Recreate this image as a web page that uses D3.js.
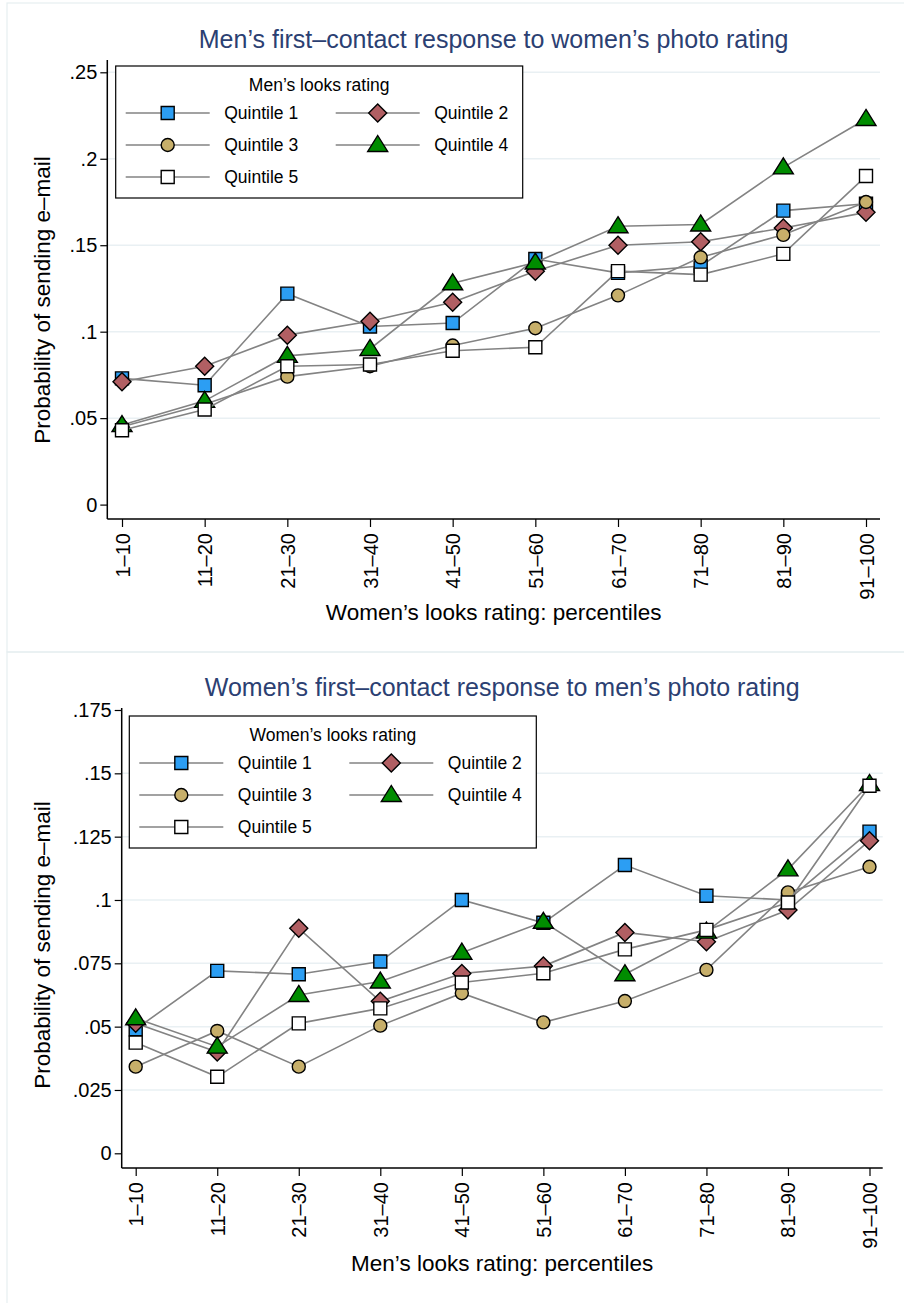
<!DOCTYPE html>
<html>
<head>
<meta charset="utf-8">
<script src="https://cdn.jsdelivr.net/npm/d3@7"></script>
<style>
  body { margin: 0; background: #fff; }
  svg { display: block; }
</style>
</head>
<body>
<script>
// categories on the x axis (percentiles)
var categories = ["1–10", "11–20", "21–30", "31–40", "41–50", "51–60", "61–70", "71–80", "81–90", "91–100"];
var seriesNames = ["Quintile 1", "Quintile 2", "Quintile 3", "Quintile 4", "Quintile 5"];

// top chart: men's response to women's photo rating
var menQ1 = [0.073, 0.069, 0.122, 0.103, 0.105, 0.142, 0.134, 0.138, 0.170, 0.174];
var menQ2 = [0.071, 0.080, 0.098, 0.106, 0.117, 0.135, 0.150, 0.152, 0.160, 0.169];
var menQ3 = [0.045, 0.058, 0.074, 0.080, 0.092, 0.102, 0.121, 0.143, 0.156, 0.175];
var menQ4 = [0.046, 0.060, 0.086, 0.090, 0.128, 0.140, 0.161, 0.162, 0.195, 0.223];
var menQ5 = [0.043, 0.055, 0.080, 0.081, 0.089, 0.091, 0.135, 0.133, 0.145, 0.190];

// bottom chart: women's response to men's photo rating
var womenQ1 = [0.049, 0.072, 0.0707, 0.0757, 0.100, 0.091, 0.1138, 0.1017, 0.100, 0.127];
var womenQ2 = [0.0513, 0.040, 0.0888, 0.060, 0.071, 0.0739, 0.0872, 0.0835, 0.096, 0.1234];
var womenQ3 = [0.0342, 0.0483, 0.0342, 0.0504, 0.0632, 0.0517, 0.0601, 0.0724, 0.103, 0.1131];
var womenQ4 = [0.0533, 0.0421, 0.0625, 0.0678, 0.0792, 0.0914, 0.0707, 0.0875, 0.1121, 0.1458];
var womenQ5 = [0.0437, 0.0302, 0.0513, 0.0572, 0.0674, 0.0711, 0.0805, 0.0882, 0.099, 0.1451];

// axis ticks
var topYTicks = [0, 0.05, 0.1, 0.15, 0.2, 0.25];
var topYLabels = ["0", ".05", ".1", ".15", ".2", ".25"];
var topGrid = [0.05, 0.1, 0.15, 0.2, 0.25];
var bottomYTicks = [0, 0.025, 0.05, 0.075, 0.1, 0.125, 0.15, 0.175];
var bottomYLabels = ["0", ".025", ".05", ".075", ".1", ".125", ".15", ".175"];
var bottomGrid = [0.025, 0.05, 0.075, 0.1, 0.125, 0.15];

// marker styles per series
var markerShape = ["square", "diamond", "circle", "triangle", "square"];
var markerFill = ["#2c9ef3", "#b15f63", "#c7af6a", "#008c00", "#ffffff"];

var FONT = "'Liberation Sans', Arial, Helvetica, sans-serif";

var svg = d3.select("body").append("svg")
    .attr("width", 904)
    .attr("height", 1303)
    .style("font-family", FONT);

function markerPath(shape) {
    if (shape == "square") return "M-6.5,-6.5h13v13h-13z";
    if (shape == "diamond") return "M0,-9L9,0L0,9L-9,0Z";
    if (shape == "circle") return "M6.5,0A6.5,6.5 0 1,1 -6.5,0A6.5,6.5 0 1,1 6.5,0Z";
    return "M0,-9.5L10,6.5L-10,6.5Z";
}

function drawPanel(p) {
    var g = svg.append("g");

    var x = d3.scalePoint().domain(categories).range([p.x0, p.x1]);
    var y = d3.scaleLinear().domain([0, p.yMax]).range([p.y0, p.y1]);

    //gridlines
    g.append("g")
        .selectAll("line")
        .data(p.grid)
        .enter().append("line")
        .attr("x1", p.left).attr("x2", p.right)
        .attr("y1", function(d) { return y(d); })
        .attr("y2", function(d) { return y(d); })
        .style("stroke", "#e9f0f3")
        .style("stroke-width", "1.5px");

    //y axis
    var yAxis = d3.axisLeft(y)
        .tickValues(p.yTicks)
        .tickFormat(function(d, i) { return p.yLabels[i]; })
        .tickSize(7)
        .tickPadding(3);
    var ya = g.append("g").attr("transform", "translate(" + p.left + ",0)").call(yAxis);
    ya.select(".domain").remove();
    ya.selectAll(".tick line").style("stroke", "#000").style("stroke-width", "1.2px");
    ya.selectAll(".tick text")
        .style("font-family", FONT)
        .style("font-size", "20px")
        .style("fill", "#000");

    //x axis
    var xAxis = d3.axisBottom(x).tickSize(8);
    var xa = g.append("g").attr("transform", "translate(0," + p.bottom + ")").call(xAxis);
    xa.select(".domain").remove();
    xa.selectAll(".tick line").style("stroke", "#000").style("stroke-width", "1.2px");
    xa.selectAll(".tick text")
        .attr("transform", "rotate(-90)")
        .attr("x", -14)
        .attr("y", 0)
        .attr("dy", "0.35em")
        .style("text-anchor", "end")
        .style("font-family", FONT)
        .style("font-size", "20px")
        .style("fill", "#000");

    //axis lines
    g.append("line")
        .attr("x1", p.left).attr("x2", p.left)
        .attr("y1", p.top).attr("y2", p.bottom)
        .style("stroke", "#000").style("stroke-width", "1.5px");
    g.append("line")
        .attr("x1", p.left).attr("x2", p.right)
        .attr("y1", p.bottom).attr("y2", p.bottom)
        .style("stroke", "#000").style("stroke-width", "1.5px");

    //series: line then markers, one after another
    var line = d3.line()
        .x(function(d, i) { return x(categories[i]); })
        .y(function(d) { return y(d); });

    p.series.forEach(function(values, s) {
        var sg = g.append("g");
        sg.append("path")
            .attr("d", line(values))
            .style("fill", "none")
            .style("stroke", "#838383")
            .style("stroke-width", "1.6px");
        sg.selectAll("path.mk")
            .data(values)
            .enter().append("path")
            .attr("class", "mk")
            .attr("d", markerPath(markerShape[s]))
            .attr("transform", function(d, i) { return "translate(" + x(categories[i]) + "," + y(d) + ")"; })
            .style("fill", markerFill[s])
            .style("stroke", "#000")
            .style("stroke-width", "1.4px");
    });

    //legend
    var lg = g.append("g").attr("transform", "translate(" + p.legendX + "," + p.legendY + ")");
    lg.append("rect")
        .attr("width", 407).attr("height", 132)
        .style("fill", "#fff").style("stroke", "#000").style("stroke-width", "1.2px");
    lg.append("text")
        .attr("x", 203.5).attr("y", 24.5)
        .style("text-anchor", "middle")
        .style("font-size", "17.5px")
        .text(p.legendTitle);
    var items = lg.selectAll("g.item")
        .data(seriesNames)
        .enter().append("g")
        .attr("class", "item")
        .attr("transform", function(d, i) { return "translate(" + (10 + (i % 2) * 210) + "," + (47 + Math.floor(i / 2) * 32) + ")"; });
    items.append("line")
        .attr("x1", 0).attr("x2", 84)
        .style("stroke", "#838383").style("stroke-width", "1.6px");
    items.append("path")
        .attr("d", function(d, i) { return markerPath(markerShape[i]); })
        .attr("transform", "translate(42,0)")
        .style("fill", function(d, i) { return markerFill[i]; })
        .style("stroke", "#000")
        .style("stroke-width", "1.4px");
    items.append("text")
        .attr("x", 98.5).attr("dy", "0.35em")
        .style("font-size", "17.5px")
        .text(function(d) { return d; });

    //titles
    g.append("text")
        .attr("x", (p.left + p.right) / 2).attr("y", p.titleY)
        .style("text-anchor", "middle")
        .style("font-size", "25px")
        .style("fill", "#2b4072")
        .text(p.title);
    g.append("text")
        .attr("x", (p.left + p.right) / 2).attr("y", p.xTitleY)
        .style("text-anchor", "middle")
        .style("font-size", "22.5px")
        .text(p.xTitle);
    g.append("text")
        .attr("transform", "translate(50," + p.yTitleY + ") rotate(-90)")
        .style("text-anchor", "middle")
        .style("font-size", "22.5px")
        .text("Probability of sending e–mail");
}

//panel frames
svg.append("rect")
    .attr("x", 7).attr("y", 3).attr("width", 910).attr("height", 649)
    .style("fill", "none").style("stroke", "#e6eef0").style("stroke-width", "1.2px");
svg.append("rect")
    .attr("x", 7).attr("y", 652).attr("width", 910).attr("height", 660)
    .style("fill", "none").style("stroke", "#e6eef0").style("stroke-width", "1.2px");

drawPanel({
    series: [menQ1, menQ2, menQ3, menQ4, menQ5],
    yTicks: topYTicks, yLabels: topYLabels, grid: topGrid, yMax: 0.25,
    left: 107.3, right: 880, top: 60, bottom: 519,
    x0: 122, x1: 866, y0: 504.6, y1: 72.3,
    legendX: 115.7, legendY: 66,
    legendTitle: "Men’s looks rating",
    title: "Men’s first–contact response to women’s photo rating",
    titleY: 48,
    xTitle: "Women’s looks rating: percentiles",
    xTitleY: 620,
    yTitleY: 300
});

drawPanel({
    series: [womenQ1, womenQ2, womenQ3, womenQ4, womenQ5],
    yTicks: bottomYTicks, yLabels: bottomYLabels, grid: bottomGrid, yMax: 0.175,
    left: 121.7, right: 882.7, top: 708, bottom: 1168,
    x0: 135.7, x1: 869.5, y0: 1153.3, y1: 710,
    legendX: 129.3, legendY: 716,
    legendTitle: "Women’s looks rating",
    title: "Women’s first–contact response to men’s photo rating",
    titleY: 696,
    xTitle: "Men’s looks rating: percentiles",
    xTitleY: 1271,
    yTitleY: 945
});
</script>
</body>
</html>
